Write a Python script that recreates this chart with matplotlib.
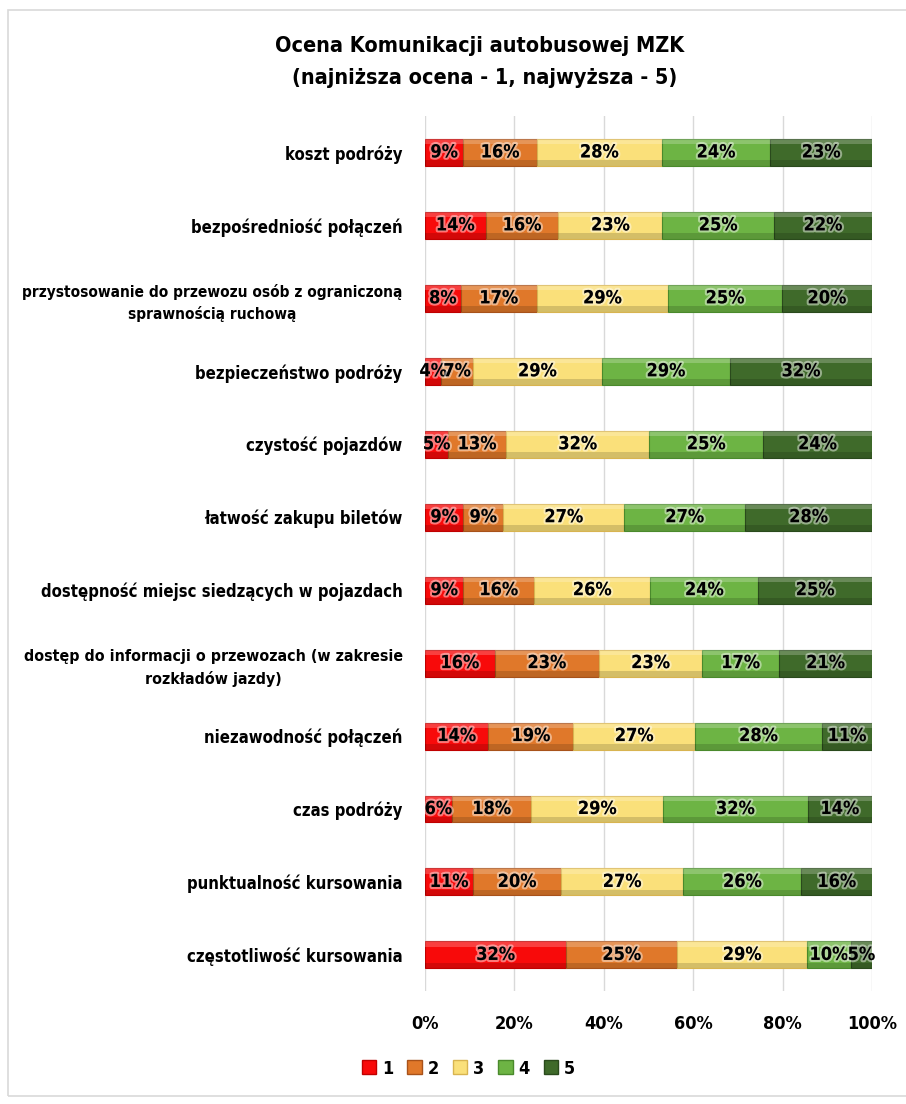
import numpy as np
import matplotlib.pyplot as plt
import matplotlib.patheffects as pe
from matplotlib.patches import Rectangle

plt.rcParams['font.family'] = ['DejaVu Sans']
plt.rcParams['font.stretch'] = 'condensed'
plt.rcParams['font.weight'] = 'bold'

categories = [
    "koszt podróży",
    "bezpośredniość połączeń",
    "przystosowanie do przewozu osób z ograniczoną\nsprawnością ruchową",
    "bezpieczeństwo podróży",
    "czystość pojazdów",
    "łatwość zakupu biletów",
    "dostępność miejsc siedzących w pojazdach",
    "dostęp do informacji o przewozach (w zakresie\nrozkładów jazdy)",
    "niezawodność połączeń",
    "czas podróży",
    "punktualność kursowania",
    "częstotliwość kursowania",
]

# udział ocen (%) dla poszczególnych kategorii
ocena_1 = [8.6, 13.6, 8.0, 3.7, 5.2, 8.6, 8.6, 15.6, 14.2, 6.0, 10.8, 31.6]
ocena_2 = [16.4, 16.3, 17.0, 7.0, 12.9, 8.9, 15.7, 23.3, 19.0, 17.8, 19.6, 24.8]
ocena_3 = [28.0, 23.3, 29.4, 28.9, 32.1, 27.1, 26.0, 23.1, 27.2, 29.4, 27.4, 29.1]
ocena_4 = [24.2, 25.0, 25.4, 28.6, 25.4, 27.0, 24.0, 17.2, 28.4, 32.3, 26.4, 9.7]
ocena_5 = [22.8, 22.0, 20.2, 31.8, 24.4, 28.4, 25.4, 20.8, 11.2, 14.4, 15.8, 4.8]

series_names = ["1", "2", "3", "4", "5"]
colors = ["#F80A0A", "#E0782A", "#FAE07A", "#6DB444", "#3F6A2A"]
dark = ["#C00000", "#A8521A", "#D8B450", "#4A8A2C", "#2A4A1C"]

data = np.array([ocena_1, ocena_2, ocena_3, ocena_4, ocena_5])
pct = data / data.sum(axis=0) * 100

fig = plt.figure(figsize=(9.06, 11.04), dpi=100)
ax = fig.add_axes([0.469, 0.102, 0.4935, 0.793])

# ramka wykresu
fig.patches.append(Rectangle((8 / 906, 8 / 1104), 1.2, 1 - 18 / 1104, transform=fig.transFigure,
                             fill=False, edgecolor="#D9D9D9", linewidth=1.2))

y = np.arange(len(categories))
h = 0.37
left = np.zeros(len(categories))
for i in range(5):
    ax.barh(y, pct[i], left=left, height=h, color=colors[i], edgecolor=dark[i],
            linewidth=0.8, label=series_names[i], zorder=3)
    # efekt wypukłości (góra jaśniejsza, dół ciemniejszy)
    ax.barh(y - h * 0.4, pct[i], left=left, height=h * 0.2, color="white", alpha=0.22,
            linewidth=0, zorder=4)
    ax.barh(y + h * 0.4, pct[i], left=left, height=h * 0.2, color="black", alpha=0.15,
            linewidth=0, zorder=4)
    for j in range(len(categories)):
        ax.text(left[j] + pct[i][j] / 2, y[j], "%d%%" % round(data[i][j]), ha="center",
                va="center", fontsize=13, fontweight="bold", color="black", zorder=6,
                path_effects=[pe.withStroke(linewidth=3, foreground=(1, 1, 1, 0.45))])
    left += pct[i]

ax.set_xlim(0, 100)
ax.set_ylim(len(categories) - 0.5, -0.5)
ax.set_xticks(np.arange(0, 101, 20))
ax.set_xticklabels(["%d%%" % v for v in range(0, 101, 20)], fontsize=13, fontweight="bold")
ax.set_yticks(y)
ax.set_yticklabels(categories, fontsize=12, fontweight="bold", multialignment="center",
                   linespacing=1.5)
ax.tick_params(axis="both", length=0)
ax.tick_params(axis="y", pad=16)
ax.tick_params(axis="x", pad=17)
for s in ax.spines.values():
    s.set_visible(False)
ax.grid(axis="x", color="#D9D9D9", linewidth=1, zorder=0)
ax.set_axisbelow(True)

# za szerokie etykiety - zmniejsz czcionkę, żeby zmieściły się w ramce
fig.canvas.draw()
r = fig.canvas.get_renderer()
for t in ax.get_yticklabels():
    w = t.get_window_extent(r).width
    if w > 378:
        t.set_fontsize(12 * 378 / w)

fig.text(0.529, 0.958, "Ocena Komunikacji autobusowej MZK", ha="center", va="center",
         fontsize=15.5, fontweight="bold")
fig.text(0.535, 0.929, "(najniższa ocena - 1, najwyższa - 5)", ha="center", va="center",
         fontsize=15.5, fontweight="bold")

handles = [Rectangle((0, 0), 1, 1, facecolor=c, edgecolor=d) for c, d in zip(colors, dark)]
fig.legend(handles, series_names, loc="center", bbox_to_anchor=(0.517, 0.032), ncol=5,
           frameon=False, fontsize=13, handlelength=0.8, handleheight=0.8,
           handletextpad=0.3, columnspacing=0.8)

fig.savefig("out.png", dpi=100, facecolor="white")
